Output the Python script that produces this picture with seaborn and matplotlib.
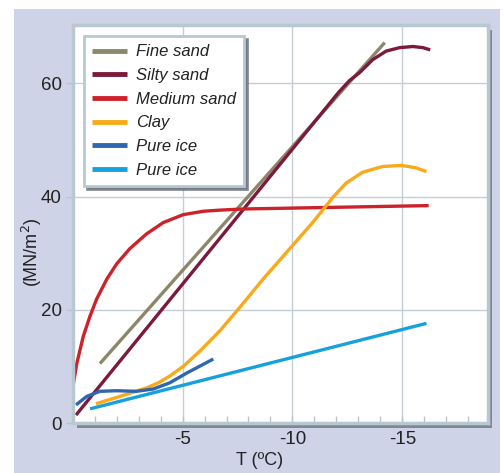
import numpy as np
import pandas as pd
import matplotlib
matplotlib.use("Agg")
import matplotlib.pyplot as plt
from matplotlib.patches import Rectangle
import seaborn as sns

# Dados: temperatura (ºC) e resistência (MN/m2)
fine_T = [-1.24, -14.2]
fine_y = [10.5, 67.2]

silty_T = [-0.15, -12.1, -12.6, -13.06, -13.66, -14.27, -14.88, -15.48, -15.94, -16.27]
silty_y = [1.4, 58.4, 60.5, 61.9, 64.2, 65.7, 66.3, 66.5, 66.3, 65.9]

medium_T = [0.0, -0.18, -0.48, -0.79, -1.09, -1.55, -2.0, -2.6, -3.36, -4.12, -5.03, -5.94, -6.7, -7.75, -16.2]
medium_y = [6.2, 10.4, 15.3, 18.9, 21.9, 25.4, 28.1, 30.8, 33.4, 35.4, 36.8, 37.4, 37.6, 37.8, 38.4]

clay_T = [-1.06, -2.15, -3.36, -3.9, -4.42, -5.03, -5.79, -6.7, -7.6, -8.66, -9.88, -10.94, -11.85,
          -12.45, -13.2, -14.1, -14.95, -15.6, -16.1]
clay_y = [3.4, 4.7, 6.2, 7.1, 8.3, 10.0, 12.7, 16.3, 20.4, 25.4, 30.8, 35.5, 39.9,
          42.4, 44.3, 45.3, 45.5, 45.1, 44.4]

ice1_T = [-0.15, -0.64, -1.24, -2.0, -2.9, -3.66, -4.42, -5.18, -6.4]
ice1_y = [3.2, 4.7, 5.6, 5.7, 5.6, 6.0, 7.1, 8.8, 11.3]

ice2_T = [-0.79, -16.1]
ice2_y = [2.5, 17.6]

series = [
    ("Fine sand", fine_T, fine_y, "#8c876b"),
    ("Silty sand", silty_T, silty_y, "#7b1a3c"),
    ("Medium sand", medium_T, medium_y, "#cc2229"),
    ("Clay", clay_T, clay_y, "#f9a91a"),
    ("Pure ice", ice1_T, ice1_y, "#2e67b0"),
    ("Pure ice", ice2_T, ice2_y, "#16a1dc"),
]

sns.set_style("white")
plt.rcParams['font.family'] = ['Liberation Sans', 'DejaVu Sans']

fig = plt.figure(figsize=(5.04, 4.73), dpi=100)
fig.patch.set_facecolor("white")

# Fundo lilás
fig.patches.append(Rectangle((14 / 504, 0), 486 / 504, 464 / 473, transform=fig.transFigure,
                             facecolor="#cfd3e8", edgecolor="none", zorder=0))

left, bottom, right, top = 72.7 / 504, 1 - 423 / 473, 488 / 504, 1 - 25 / 473
# Sombra do gráfico
fig.patches.append(Rectangle((left + 4 / 504, bottom - 5 / 473), right - left, top - bottom,
                             transform=fig.transFigure, facecolor="#6d7480", edgecolor="none",
                             alpha=0.8, zorder=0.5))

ax = fig.add_axes([left, bottom, right - left, top - bottom])
ax.set_zorder(2)
ax.set_facecolor("white")

for nome, T, y, cor in series:
    df = pd.DataFrame({"T": T, "y": y})
    sns.lineplot(data=df, x="T", y="y", sort=False, color=cor, lw=2.4, label=nome, ax=ax,
                 solid_joinstyle="round", solid_capstyle="butt")

ax.set_xlim(0, -18.9)
ax.set_ylim(0, 70.3)
ax.set_xticks([-5, -10, -15])
ax.set_xticklabels(["-5", "-10", "-15"])
ax.set_xticks(np.arange(-1, -19, -1), minor=True)
ax.set_yticks([0, 20, 40, 60])
ax.set_yticklabels(["0", "20", "40", "60"])
ax.grid(True, which="major", color="#c2cdd5", lw=1.0)
ax.set_axisbelow(True)
ax.tick_params(axis="x", which="minor", direction="in", length=5, color="#b8c4cc", width=1, bottom=True)
ax.tick_params(axis="x", which="major", direction="in", length=5, color="#b8c4cc", width=1,
               bottom=True, labelsize=13.5, pad=6, labelcolor="#222222")
ax.tick_params(axis="y", which="major", direction="out", length=5, color="#b8c4cc", width=1,
               left=True, labelsize=13.5, pad=3, labelcolor="#222222")
for s in ax.spines.values():
    s.set_color("#b8c8d0")
    s.set_linewidth(2.5)

ax.set_xlabel("T (ºC)", fontsize=13, color="#222222")
ax.xaxis.set_label_coords(0.451, -0.093)
ax.xaxis.label.set_va("center")
ax.set_ylabel("(MN/m$^2$)", fontsize=13, color="#222222")
ax.yaxis.set_label_coords(-0.098, 0.43)
ax.yaxis.label.set_va("center")

leg = ax.legend(loc="upper left", bbox_to_anchor=(0.027, 0.972), prop={"style": "italic", "size": 12},
                frameon=True, fancybox=False, shadow={"color": "#6d7480", "alpha": 0.8},
                handlelength=2.1, labelspacing=0.52, borderpad=0.5, handletextpad=0.5, borderaxespad=0)
leg.get_frame().set_edgecolor("#b8c8d0")
leg.get_frame().set_linewidth(2)
for t in leg.get_texts():
    t.set_color("#222222")
for h in leg.get_lines():
    h.set_linewidth(3.5)

fig.savefig("out.png", dpi=100, facecolor=fig.get_facecolor())
